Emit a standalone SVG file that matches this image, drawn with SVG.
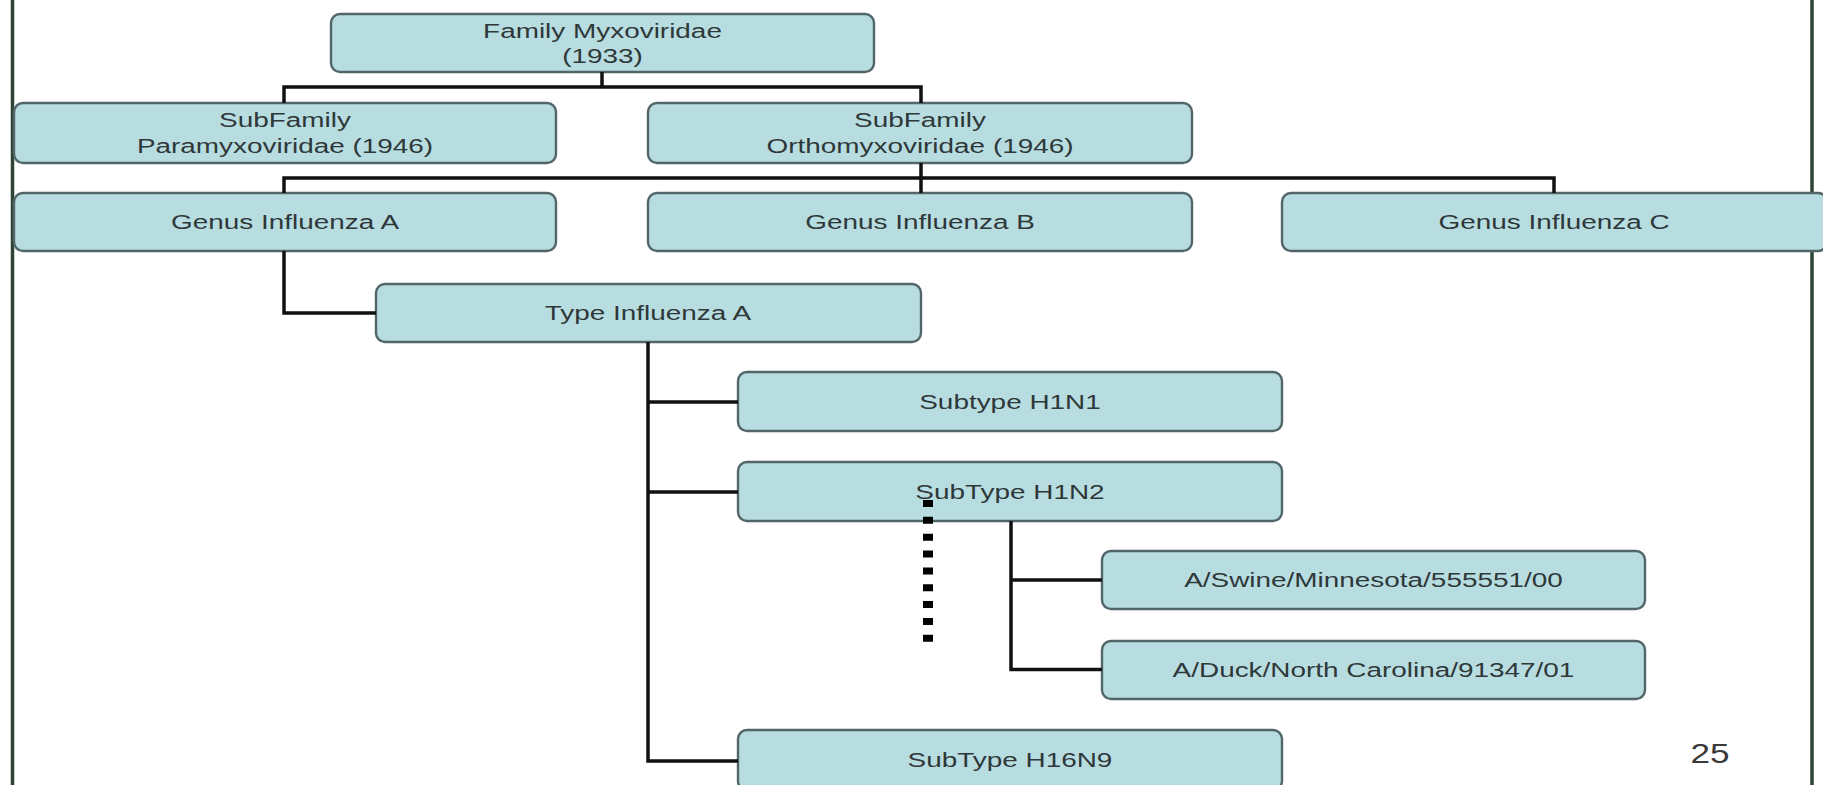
<svg xmlns="http://www.w3.org/2000/svg" width="1823" height="785" viewBox="0 0 1823 785">
<style>
.box{fill:#b8dde1;stroke:#52666a;stroke-width:2.4}
.t{font-family:"Liberation Sans",Arial,sans-serif;font-size:21px;fill:#2f3839;text-anchor:middle}
.c{fill:none;stroke:#111;stroke-width:3.5;stroke-linejoin:miter}
.dot{fill:none;stroke:#000;stroke-width:10;stroke-dasharray:7 9.85}
.border{stroke:#2d4436;stroke-width:3.5}
</style>
<rect width="1823" height="785" fill="#fff"/>
<g id="frame">
<line class="border" x1="12.5" y1="0" x2="12.5" y2="785"/>
<line class="border" x1="1812" y1="0" x2="1812" y2="785"/>
</g>
<g id="n-family"><rect class="box" x="331" y="14" width="543" height="58" rx="9"/>
<text class="t" transform="matrix(1.33 0 0 1 602.5 0)" y="38">Family Myxoviridae</text>
<text class="t" transform="matrix(1.33 0 0 1 602.5 0)" y="63">(1933)</text></g>
<g id="n-para"><rect class="box" x="14" y="103" width="542" height="60" rx="9"/>
<text class="t" transform="matrix(1.33 0 0 1 285 0)" y="127">SubFamily</text>
<text class="t" transform="matrix(1.33 0 0 1 285 0)" y="153.5">Paramyxoviridae (1946)</text></g>
<g id="n-ortho"><rect class="box" x="648" y="103" width="544" height="60" rx="9"/>
<text class="t" transform="matrix(1.33 0 0 1 920 0)" y="127">SubFamily</text>
<text class="t" transform="matrix(1.33 0 0 1 920 0)" y="153.5">Orthomyxoviridae (1946)</text></g>
<g id="n-genusA"><rect class="box" x="14" y="193" width="542" height="58" rx="9"/>
<text class="t" transform="matrix(1.33 0 0 1 285 0)" y="229">Genus Influenza A</text></g>
<g id="n-genusB"><rect class="box" x="648" y="193" width="544" height="58" rx="9"/>
<text class="t" transform="matrix(1.33 0 0 1 920 0)" y="229">Genus Influenza B</text></g>
<g id="n-genusC"><rect class="box" x="1282" y="193" width="545" height="58" rx="9"/>
<text class="t" transform="matrix(1.33 0 0 1 1554 0)" y="229">Genus Influenza C</text></g>
<g id="n-typeA"><rect class="box" x="376" y="284" width="545" height="58" rx="9"/>
<text class="t" transform="matrix(1.33 0 0 1 648 0)" y="320">Type Influenza A</text></g>
<g id="n-h1n1"><rect class="box" x="738" y="372" width="544" height="59" rx="9"/>
<text class="t" transform="matrix(1.33 0 0 1 1010 0)" y="409">Subtype H1N1</text></g>
<g id="n-h1n2"><rect class="box" x="738" y="462" width="544" height="59" rx="9"/>
<text class="t" transform="matrix(1.33 0 0 1 1010 0)" y="499">SubType H1N2</text></g>
<g id="n-swine"><rect class="box" x="1102" y="551" width="543" height="58" rx="9"/>
<text class="t" transform="matrix(1.33 0 0 1 1373.5 0)" y="587.5">A/Swine/Minnesota/555551/00</text></g>
<g id="n-duck"><rect class="box" x="1102" y="641" width="543" height="58" rx="9"/>
<text class="t" transform="matrix(1.33 0 0 1 1373.5 0)" y="677">A/Duck/North Carolina/91347/01</text></g>
<g id="n-h16n9"><rect class="box" x="738" y="730" width="544" height="60" rx="9"/>
<text class="t" transform="matrix(1.33 0 0 1 1010 0)" y="767">SubType H16N9</text></g>
<g id="connectors">
<path class="c" d="M602 72 V87 M284 103 V87 H921 V103"/>
<path class="c" d="M921 163 V178 M284 193 V178 H1554 V193 M921 178 V193"/>
<path class="c" d="M284 251 V313 H376"/>
<path class="c" d="M648 342 V761 H738 M648 402 H738 M648 492 H738"/>
<path class="c" d="M1011 521 V669.5 H1102 M1011 580 H1102"/>
<line class="dot" x1="928" y1="500" x2="928" y2="642"/>
</g>
<text class="t" style="font-size:27px;fill:#3a3a3a" transform="matrix(1.3 0 0 1 1710 0)" y="763">25</text>
</svg>
